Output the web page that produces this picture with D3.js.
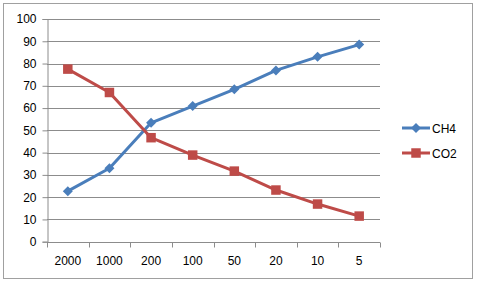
<!DOCTYPE html>
<html>
<head>
<meta charset="utf-8">
<script src="https://cdn.jsdelivr.net/npm/d3@7"></script>
<style>
  body { margin: 0; background: #fff; }
  text { font-family: 'Liberation Sans', Arial, sans-serif; font-size: 12px; fill: #000; }
</style>
</head>
<body>
<svg width="480" height="291"></svg>
<script>
const categories = ['2000', '1000', '200', '100', '50', '20', '10', '5'];
const ch4 = [22.7, 33, 53.4, 60.9, 68.4, 76.9, 83, 88.5];
const co2 = [77.5, 67, 46.7, 38.9, 31.7, 23.2, 16.9, 11.5];
const yTicks = [0, 10, 20, 30, 40, 50, 60, 70, 80, 90, 100];

const svg = d3.select('svg');

// outer frame
svg.append('rect')
  .attr('x', 3.5).attr('y', 3.5)
  .attr('width', 469).attr('height', 275)
  .attr('fill', 'none').attr('stroke', '#a0a0a0');

const margin = { top: 19, left: 47 };
const innerW = 333;
const innerH = 222.7;

const x = d3.scaleBand().domain(categories).range([0, innerW]);
const y = d3.scaleLinear().domain([0, 100]).range([innerH, 0]);

const g = svg.append('g').attr('transform', `translate(${margin.left},${margin.top})`);

// gridlines
g.append('g')
  .selectAll('line')
  .data(yTicks.filter((d) => d > 0))
  .enter()
  .append('line')
  .attr('x1', 0).attr('x2', innerW)
  .attr('y1', (d) => Math.round(y(d)) + 0.5)
  .attr('y2', (d) => Math.round(y(d)) + 0.5)
  .attr('stroke', '#8c8c8c');

// y axis
const yAxis = g.append('g')
  .call(d3.axisLeft(y).tickValues(yTicks).tickSize(5).tickPadding(4))
  .attr('transform', 'translate(0.5,0)');
yAxis.select('.domain').attr('stroke', '#8c8c8c');
yAxis.selectAll('.tick line').attr('stroke', '#8c8c8c');
yAxis.selectAll('text').style('font-size', '12px').attr('dx', '-2');

// x axis with ticks between categories
const xAxisG = g.append('g').attr('transform', `translate(0,${Math.round(innerH) + 0.5})`);
xAxisG.append('line').attr('x1', 0).attr('x2', innerW).attr('stroke', '#8c8c8c');
xAxisG.selectAll('line.tk')
  .data(d3.range(categories.length + 1))
  .enter()
  .append('line')
  .attr('class', 'tk')
  .attr('x1', (i) => Math.round(i * x.step()) + 0.5)
  .attr('x2', (i) => Math.round(i * x.step()) + 0.5)
  .attr('y1', 0).attr('y2', 5)
  .attr('stroke', '#8c8c8c');
xAxisG.selectAll('text')
  .data(categories)
  .enter()
  .append('text')
  .attr('x', (d) => x(d) + x.bandwidth() / 2)
  .attr('y', 22)
  .attr('text-anchor', 'middle')
  .text((d) => d);

const cx = (d, i) => x(categories[i]) + x.bandwidth() / 2;
const line = d3.line().x(cx).y((d) => y(d));

// diamonds are squares turned 45 degrees
const series = [
  { name: 'CH4', values: ch4, color: '#4a7ebb', size: 50, rot: 45 },
  { name: 'CO2', values: co2, color: '#be4b48', size: 90, rot: 0 }
];

series.forEach((s) => {
  g.append('path')
    .datum(s.values)
    .attr('d', line)
    .attr('fill', 'none')
    .attr('stroke', s.color)
    .attr('stroke-width', 3)
    .attr('stroke-linejoin', 'round');
  g.selectAll(null)
    .data(s.values)
    .enter()
    .append('path')
    .attr('d', d3.symbol().type(d3.symbolSquare).size(s.size))
    .attr('transform', (d, i) => `translate(${cx(d, i)},${y(d)}) rotate(${s.rot})`)
    .attr('fill', s.color);
});

// legend
const legend = svg.append('g').attr('transform', 'translate(402,128)');
series.forEach((s, i) => {
  const row = legend.append('g').attr('transform', `translate(0,${i * 25})`);
  row.append('line').attr('x1', 0).attr('x2', 28).attr('stroke', s.color).attr('stroke-width', 3);
  row.append('path')
    .attr('d', d3.symbol().type(d3.symbolSquare).size(s.size))
    .attr('transform', `translate(14,0) rotate(${s.rot})`)
    .attr('fill', s.color);
  row.append('text').attr('x', 30).attr('y', 4.5).text(s.name);
});
</script>
</body>
</html>
